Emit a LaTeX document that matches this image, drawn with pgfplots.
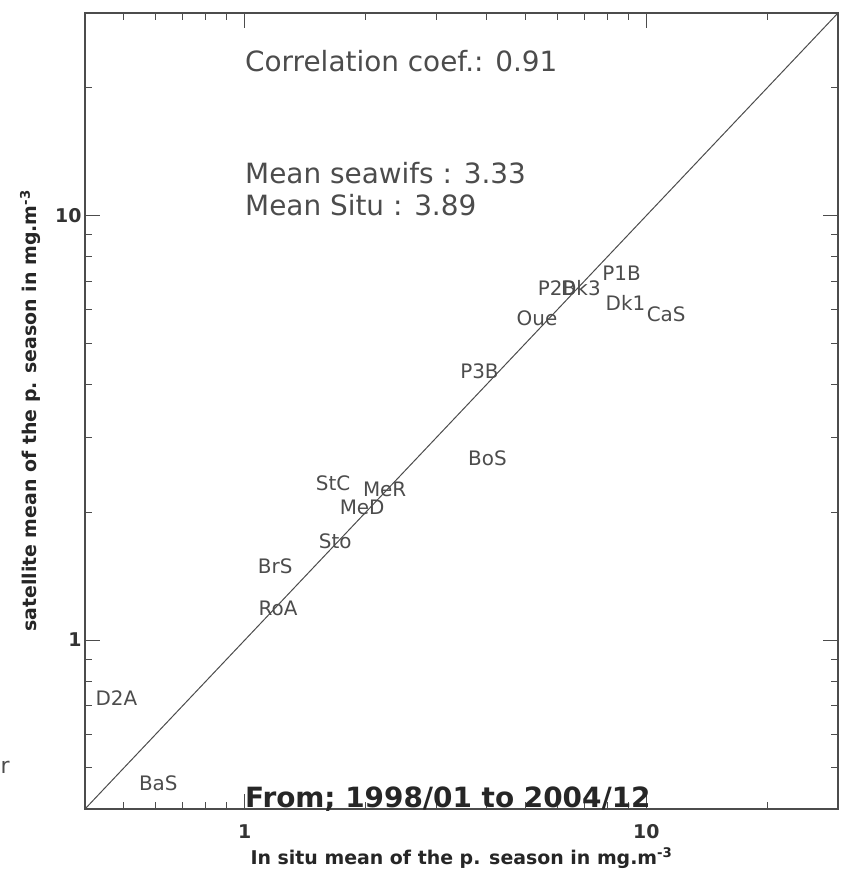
\documentclass[border=0pt]{standalone}
\usepackage{fontspec}
\setmainfont{DejaVu Sans}
\usepackage{pgfplots}
\pgfplotsset{compat=1.18}
\definecolor{ink}{gray}{0.3}
\newcommand{\fs}[1]{\fontsize{#1}{#1}\selectfont}

\begin{document}
\begin{tikzpicture}
\begin{axis}[
    scale only axis,
    width=753bp, height=796bp,
    xmode=log, ymode=log,
    xmin=0.4, xmax=30, ymin=0.4, ymax=30,
    clip=false,
    axis line style={ink, line width=1.2bp},
    tick style={ink, line width=1bp},
    tick align=inside,
    major tick length=15bp, minor tick length=7bp,
    xtick={1,10}, ytick={1,10},
    xticklabels={1,10}, yticklabels={1,10},
    minor xtick={0.5,0.6,0.7,0.8,0.9,2,3,4,5,6,7,8,9,20},
    minor ytick={0.5,0.6,0.7,0.8,0.9,2,3,4,5,6,7,8,9,20},
    ticklabel style={font=\bfseries\fs{19}, text=black!80},
    xticklabel style={yshift=-12bp},
    xlabel={In situ mean of the p. season in mg.m\textsuperscript{-3}},
    ylabel={satellite mean of the p. season in mg.m\textsuperscript{-3}},
    xlabel style={at={(axis description cs:0.5,-0.0616)}, anchor=center, font=\bfseries\fs{19}, text=black!85},
    ylabel style={at={(axis description cs:-0.073,0.5)}, anchor=center, font=\bfseries\fs{19}, text=black!85},
]
\coordinate (sw) at (rel axis cs:0,0);
\coordinate (ne) at (rel axis cs:1,1);

% one-to-one line
\addplot[ink, line width=1bp] coordinates {(0.4,0.4) (30,30)};

% station names at (in situ, satellite)
\addplot[only marks, mark=none, nodes near coords, point meta=explicit symbolic,
    nodes near coords style={anchor=center, font=\fs{20}, text=ink, inner sep=0pt}]
    table[meta=label] {
x y label
8.67 7.30 P1B
5.99 6.73 P2B
6.87 6.73 Dk3
8.87 6.24 Dk1
11.2 5.85 CaS
5.34 5.72 Oue
3.84 4.30 P3B
4.02 2.68 BoS
1.66 2.34 StC
2.23 2.27 MeR
1.96 2.05 MeD
1.68 1.71 Sto
1.19 1.49 BrS
1.21 1.19 RoA
0.479 0.731 D2A
0.609 0.461 BaS
};

\node[anchor=base west, font=\fs{28}, text=ink, inner sep=0pt] at (axis description cs:0.2125,0.926) {Correlation coef.: 0.91};
\node[anchor=base west, font=\fs{28}, text=ink, inner sep=0pt] at (axis description cs:0.2125,0.786) {Mean seawifs : 3.33};
\node[anchor=base west, font=\fs{28}, text=ink, inner sep=0pt] at (axis description cs:0.2125,0.746) {Mean Situ : 3.89};
\node[anchor=base west, font=\bfseries\fs{28}, text=black!85, inner sep=0pt] at (axis description cs:0.2125,0.0025) {From; 1998/01 to 2004/12};
\node[anchor=center, font=\fs{22}, text=ink, inner sep=0pt] at (axis description cs:-0.106,0.052) {r};
\end{axis}
\pgfresetboundingbox
\path ([shift={(-85bp,-65bp)}]sw) rectangle ([shift={(3bp,13bp)}]ne);
\end{tikzpicture}
\end{document}
